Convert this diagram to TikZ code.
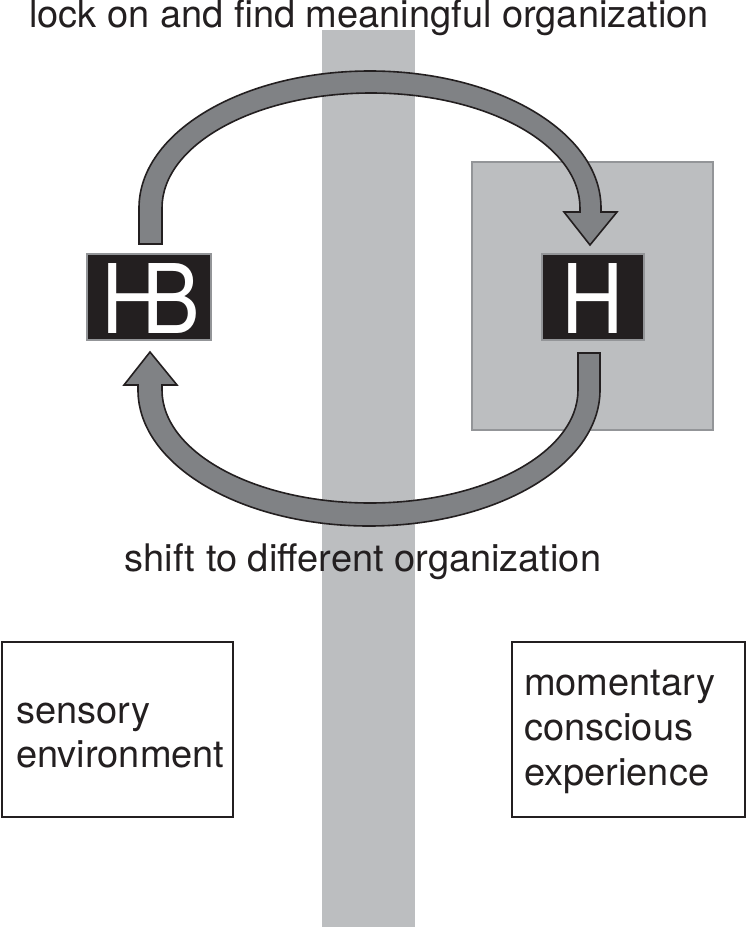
\documentclass[tikz,border=0pt]{standalone}
\usepackage{fontspec}
\setmainfont{TeX Gyre Heros}
\definecolor{barGray}{HTML}{BCBEC0}
\definecolor{arrowGray}{HTML}{808285}
\definecolor{inkBlack}{HTML}{231F20}
\definecolor{edgeGray}{HTML}{939598}
\tikzset{
  bigarrow/.style={fill=arrowGray, draw=inkBlack, line width=1.6pt, line join=miter},
  letterbox/.style={fill=inkBlack, draw=edgeGray, line width=2pt},
  textbox/.style={draw=inkBlack, line width=1.6pt},
  caption/.style={font=\fontsize{38}{45}\selectfont, text=inkBlack, inner sep=0pt},
  letter/.style={font=\fontsize{96}{96}\selectfont, text=white, inner sep=0pt}
}
\begin{document}
\begin{tikzpicture}[x=1pt,y=1pt]
\useasboundingbox (0,0) rectangle (747,-927);
% background shapes
\fill[barGray] (322,-30) rectangle (415,-927);
\filldraw[fill=barGray, draw=edgeGray, line width=1.6pt] (472,-162) rectangle (713,-430);
% letter boxes
\draw[letterbox] (87,-254) rectangle (211,-340);
\node[letter, anchor=base] (hb) at (150.5,-333) {\scalebox{0.9}[1]{H\kern-0.25em B}};
\draw[letterbox] (542,-254) rectangle (644,-340);
\node[letter, anchor=base] (h) at (593,-333) {\scalebox{0.9}[1]{H}};
% top arrow
\draw[bigarrow] (139,-244) -- (139,-208)
  arc[start angle=180, end angle=0, x radius=231, y radius=137]
  -- (601,-212) -- (617,-212) -- (590,-245) -- (564,-212) -- (580,-212) -- (580,-208)
  arc[start angle=0, end angle=180, x radius=209, y radius=115]
  -- (162,-244) -- cycle;
% bottom arrow
\draw[bigarrow] (578,-353) -- (600,-353) -- (600,-390)
  arc[start angle=0, end angle=-180, x radius=231, y radius=136]
  -- (138,-385) -- (124,-385) -- (150,-352) -- (177,-385) -- (162,-385) -- (162,-390)
  arc[start angle=180, end angle=360, x radius=208, y radius=113]
  -- cycle;
% captions
\node[caption, anchor=base] (top) at (369,-27) {lock on and find meaningful organization};
\node[caption, anchor=base] (bottom) at (363,-571) {shift to different organization};
% text boxes
\draw[textbox] (2,-642) rectangle (233,-817);
\node[caption, anchor=base west] (s1) at (16,-723) {sensory};
\node[caption, anchor=base west] (s2) at (16,-767) {environment};
\draw[textbox] (512,-642) rectangle (745,-817);
\node[caption, anchor=base west] (m1) at (524,-695) {momentary};
\node[caption, anchor=base west] (m2) at (524,-740) {conscious};
\node[caption, anchor=base west] (m3) at (524,-785) {experience};
\end{tikzpicture}
\end{document}
